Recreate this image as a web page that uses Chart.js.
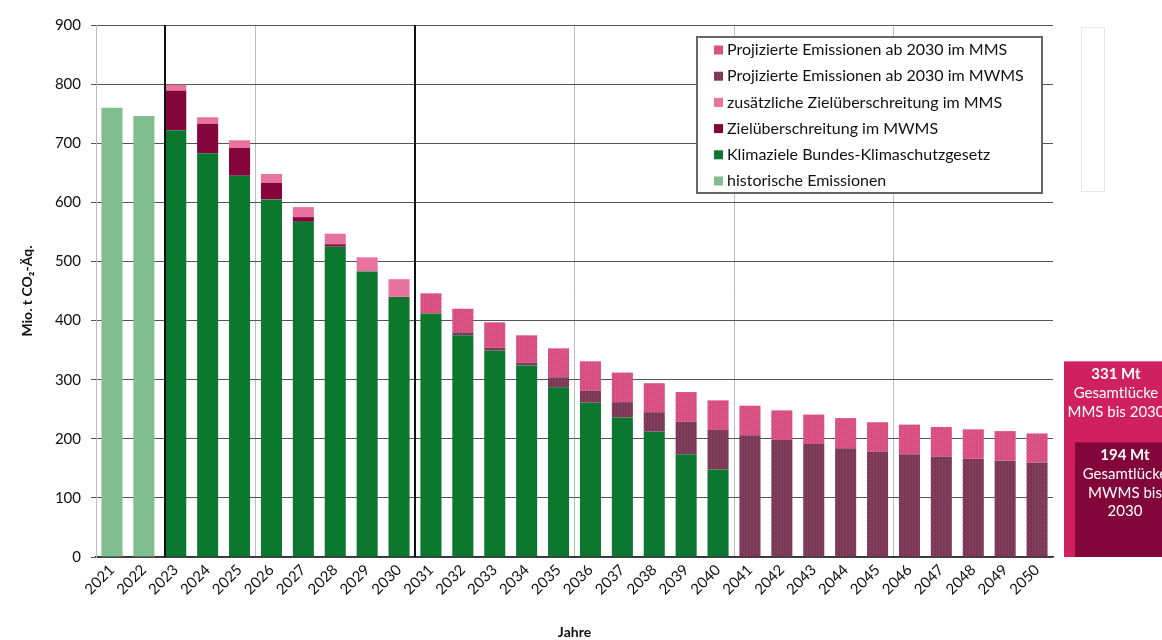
<!DOCTYPE html>
<html lang="de">
<head>
<meta charset="utf-8">
<title>Emissionen und Klimaziele</title>
<script src="https://cdn.jsdelivr.net/npm/chart.js@4.4.1/dist/chart.umd.min.js"></script>
<style>
  html, body { margin: 0; padding: 0; background: #fff; }
  #chart { display: block; }
</style>
</head>
<body>
<canvas id="chart" width="1162" height="640"></canvas>
<script>
const years = ['2021', '2022', '2023', '2024', '2025', '2026', '2027', '2028', '2029', '2030',
  '2031', '2032', '2033', '2034', '2035', '2036', '2037', '2038', '2039', '2040',
  '2041', '2042', '2043', '2044', '2045', '2046', '2047', '2048', '2049', '2050'];

// Mio. t CO2-Äq.
const historic = [760, 746, null, null, null, null, null, null, null, null,
  null, null, null, null, null, null, null, null, null, null,
  null, null, null, null, null, null, null, null, null, null];
const ksgTarget = [null, null, 722, 683, 645, 605, 567, 525, 483, 440,
  412, 375, 349, 324, 287, 261, 236, 212, 174, 148,
  null, null, null, null, null, null, null, null, null, null];
const mwmsExcess = [null, null, 67, 50, 47, 28, 8, 4, -2, -1,
  null, null, null, null, null, null, null, null, null, null,
  null, null, null, null, null, null, null, null, null, null];
const mmsExcess = [null, null, 10, 11, 13, 15, 17, 18, 24, 30,
  null, null, null, null, null, null, null, null, null, null,
  null, null, null, null, null, null, null, null, null, null];
const projMwms = [null, null, null, null, null, null, null, null, null, null,
  -2, 5, 5, 5, 17, 20, 26, 33, 55, 67,
  206, 198, 191, 184, 178, 174, 170, 166, 163, 160];
const projMms = [null, null, null, null, null, null, null, null, null, null,
  34, 40, 43, 46, 49, 50, 50, 49, 50, 50,
  50, 50, 50, 51, 50, 50, 50, 50, 50, 49];

const yTicks = [0, 100, 200, 300, 400, 500, 600, 700, 800, 900];

const gapMms = 331;
const gapMwms = 194;
const gapMmsText = ['331 Mt', 'Gesamtlücke', 'MMS bis 2030'];
const gapMwmsText = ['194 Mt', 'Gesamtlücke', 'MWMS bis', '2030'];

const FONT = 'Lato, "Open Sans", "Liberation Sans", sans-serif';
const BAR_PCT = 0.66;

function hatch(base, stripe) {
  const c = document.createElement('canvas');
  c.width = 3; c.height = 4;
  const g = c.getContext('2d');
  g.fillStyle = base;
  g.fillRect(0, 0, 3, 4);
  g.fillStyle = stripe;
  g.fillRect(1, 0, 1, 2);
  g.fillRect(2, 2, 1, 2);
  return g.createPattern(c, 'repeat');
}

const projMmsFill = hatch('#de5688', 'rgba(170,40,90,0.3)');
const projMwmsFill = hatch('#86405f', 'rgba(60,15,35,0.3)');

function bars(label, data, color) {
  return {
    label: label,
    data: data,
    backgroundColor: color,
    borderWidth: 0,
    barPercentage: BAR_PCT,
    categoryPercentage: 1,
    stack: 'all'
  };
}

const datasets = [
  bars('historische Emissionen', historic, '#80bd8f'),
  bars('Klimaziele Bundes-Klimaschutzgesetz', ksgTarget, '#0b772f'),
  bars('Zielüberschreitung im MWMS', mwmsExcess, '#85063c'),
  bars('Projizierte Emissionen ab 2030 im MWMS', projMwms, projMwmsFill),
  bars('zusätzliche Zielüberschreitung im MMS', mmsExcess, '#e9739d'),
  bars('Projizierte Emissionen ab 2030 im MMS', projMms, projMmsFill)
];
// legend order as in the picture
const legendOrder = [5, 3, 4, 2, 1, 0];

const decor = {
  id: 'decor',
  afterDatasetsDraw(chart) {
    const { ctx, chartArea: a, scales: { x } } = chart;
    const step = x.getPixelForValue(1) - x.getPixelForValue(0);
    const marks = [x.getPixelForValue(2) - step * BAR_PCT / 2, x.getPixelForValue(9) + step / 2];
    ctx.save();
    ctx.strokeStyle = '#111';
    ctx.lineWidth = 2;
    marks.forEach(px => {
      ctx.beginPath();
      ctx.moveTo(Math.round(px), a.top);
      ctx.lineTo(Math.round(px), a.bottom);
      ctx.stroke();
    });
    ctx.restore();
  },
  afterDraw(chart) {
    const { ctx, chartArea: a, scales: { y } } = chart;
    ctx.save();

    // faint empty box top right
    ctx.strokeStyle = '#e6e6e6';
    ctx.lineWidth = 1;
    ctx.strokeRect(a.right + 28.5, a.top + 2.5, 23, 164);

    // legend
    const lx = a.right - 356, ly = a.top + 12, lw = 345, lh = 156;
    ctx.fillStyle = '#fff';
    ctx.fillRect(lx, ly, lw, lh);
    ctx.strokeStyle = '#666';
    ctx.lineWidth = 2;
    ctx.strokeRect(lx, ly, lw, lh);
    ctx.font = '16px ' + FONT;
    ctx.textBaseline = 'middle';
    legendOrder.forEach((di, i) => {
      const ds = chart.data.datasets[di];
      const cy = ly + 13 + i * 26.2;
      ctx.fillStyle = ds.backgroundColor;
      ctx.fillRect(lx + 17, cy - 4.5, 9, 9);
      ctx.fillStyle = '#111';
      ctx.textAlign = 'left';
      ctx.fillText(ds.label, lx + 30, cy);
    });

    // gap boxes on the right
    const yb = y.getPixelForValue(0);
    const y1 = y.getPixelForValue(gapMms);
    const y2 = y.getPixelForValue(gapMwms);
    ctx.fillStyle = '#d0215f';
    ctx.fillRect(a.right + 11, y1, 120, yb - y1);
    ctx.fillStyle = '#82063a';
    ctx.fillRect(a.right + 22, y2, 120, yb - y2);
    ctx.fillStyle = '#fff';
    ctx.textAlign = 'center';
    gapMmsText.forEach((t, i) => {
      ctx.font = (i === 0 ? 'bold ' : '') + '15px ' + FONT;
      ctx.fillText(t, a.right + 63, y1 + 13 + i * 18.7);
    });
    gapMwmsText.forEach((t, i) => {
      ctx.font = (i === 0 ? 'bold ' : '') + '15px ' + FONT;
      ctx.fillText(t, a.right + 72, y2 + 13 + i * 18.7);
    });
    ctx.restore();
  }
};

new Chart(document.getElementById('chart'), {
  type: 'bar',
  data: { labels: years, datasets: datasets },
  options: {
    responsive: false,
    animation: false,
    layout: { padding: { top: 25, right: 109, left: 0, bottom: 0 } },
    plugins: {
      legend: { display: false },
      tooltip: { enabled: false }
    },
    scales: {
      x: {
        stacked: true,
        afterFit(s) { s.height = 83; },
        grid: {
          offset: true,
          drawTicks: false,
          color: c => (c.index % 5 === 0 ? '#bdbdbd' : 'rgba(0,0,0,0)'),
          lineWidth: 1
        },
        border: { color: '#333', width: 1.5 },
        ticks: {
          color: '#111',
          font: { family: FONT, size: 15 },
          minRotation: 45,
          maxRotation: 45,
          padding: 4,
          autoSkip: false
        },
        title: {
          display: true,
          text: 'Jahre',
          color: '#111',
          font: { family: FONT, size: 14, weight: 'bold' },
          padding: { top: 0, bottom: -1 }
        }
      },
      y: {
        stacked: true,
        min: yTicks[0],
        max: yTicks[yTicks.length - 1],
        afterFit(s) { s.width = 96; },
        afterBuildTicks(s) { s.ticks = yTicks.map(v => ({ value: v })); },
        grid: { color: '#555', lineWidth: 1, tickLength: 5 },
        border: { color: '#bdbdbd', width: 1 },
        ticks: {
          color: '#111',
          font: { family: FONT, size: 15 },
          padding: 10
        },
        title: {
          display: true,
          text: 'Mio. t CO₂-Äq.',
          color: '#111',
          font: { family: FONT, size: 14, weight: 'bold' },
          padding: { top: 19, bottom: 0 }
        }
      }
    }
  },
  plugins: [decor]
});
</script>
</body>
</html>
